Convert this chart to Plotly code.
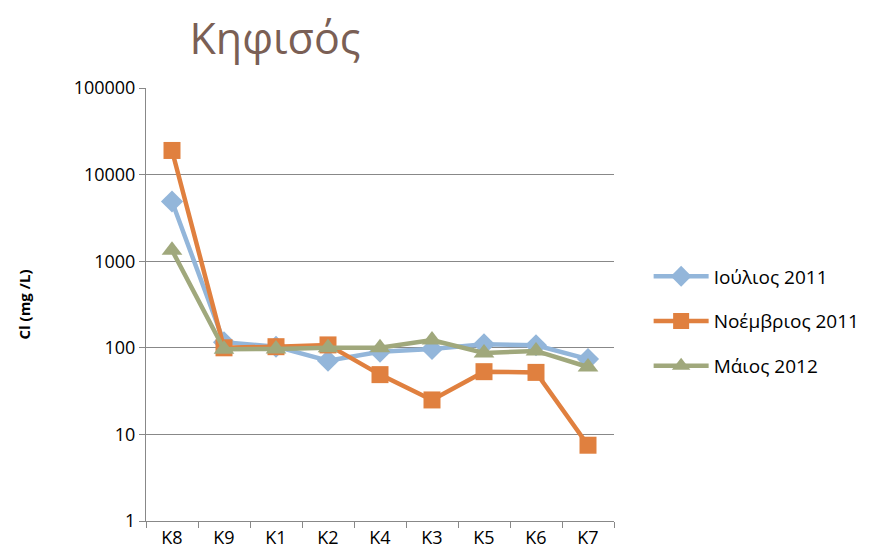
import plotly.graph_objects as go

categories = ["K8", "K9", "K1", "K2", "K4", "K3", "K5", "K6", "K7"]
jul_2011 = [4900, 116, 103, 71, 90, 97, 110, 107, 74]
nov_2011 = [19000, 100, 103, 108, 49, 25, 53, 52, 7.5]
may_2012 = [1340, 96, 97, 100, 100, 123, 87, 92, 60]
series_names = ["Ιούλιος 2011", "Νοέμβριος 2011", "Μάιος 2012"]
y_ticks = [1, 10, 100, 1000, 10000, 100000]

colors = ["#93B6DA", "#E0803F", "#A0A87C"]
symbols = ["diamond", "square", "triangle-up"]
sizes = [17, 17, 18]

fig = go.Figure()
for i, (name, vals, c, s, sz) in enumerate(zip(series_names, [jul_2011, nov_2011, may_2012], colors, symbols, sizes)):
    fig.add_trace(go.Scatter(
        x=categories, y=vals, name=name, mode="lines+markers", legendgroup=f"g{i}",
        line=dict(color=c, width=4.5),
        marker=dict(symbol=s, size=sz, color=c),
    ))

fig.update_layout(
    width=892, height=559,
    margin=dict(l=138, r=286, t=80, b=46),
    paper_bgcolor="white", plot_bgcolor="white",
    font=dict(family="Open Sans, DejaVu Sans, sans-serif", color="#000"),
    title=dict(text="Κηφισός", x=267 / 892, xanchor="center", y=1 - 31 / 559, yanchor="middle",
               font=dict(size=43, color="#7A5F55", family="Open Sans, DejaVu Sans, sans-serif")),
    showlegend=True,
    legend=dict(x=1.074, y=0.461, xanchor="left", yanchor="middle",
                font=dict(size=19), tracegroupgap=17, itemwidth=55),
)
fig.update_xaxes(
    type="category", range=[-0.5, len(categories) - 0.5],
    tickson="boundaries", ticks="outside", ticklen=6, tickcolor="#888",
    showline=True, linecolor="#888", linewidth=1, showgrid=False, automargin=False,
    tickfont=dict(size=18),
)
fig.update_yaxes(
    type="log", range=[0, 5], tickvals=y_ticks, ticktext=[str(v) for v in y_ticks],
    ticks="outside", ticklen=6, tickcolor="#888", automargin=False,
    showline=True, linecolor="#888", linewidth=1,
    showgrid=True, gridcolor="#888", gridwidth=1,
    tickfont=dict(size=18),
    title=dict(text="<b>Cl (mg /L)</b>", font=dict(size=15), standoff=39),
)
fig.write_html("out.html")
